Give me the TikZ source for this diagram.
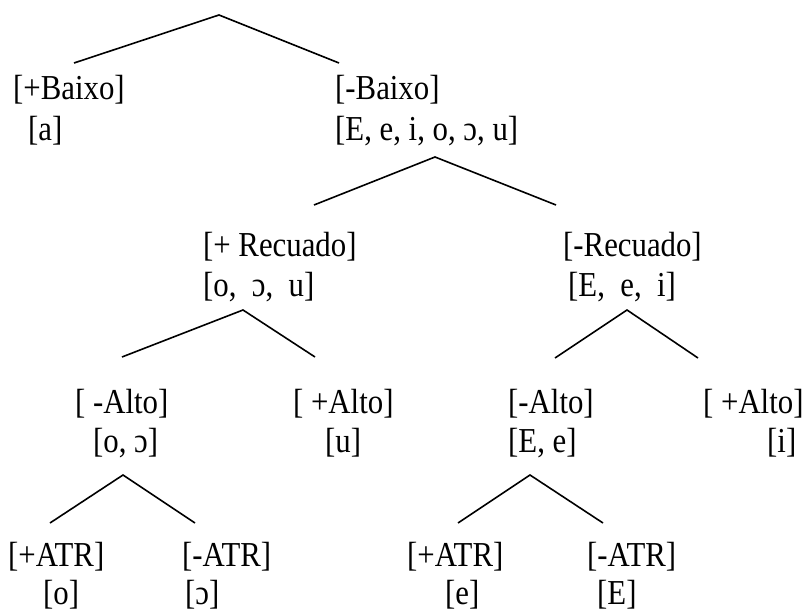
\documentclass[tikz,border=0pt]{standalone}
\usepackage{fontspec}
\setmainfont{Liberation Serif}[FakeStretch=0.88]
\begin{document}
\begin{tikzpicture}[x=1pt,y=-1pt,
  lbl/.style={anchor=base west, inner sep=0pt, font=\fontsize{35}{40}\selectfont},
  branch/.style={line width=1.6pt, line join=miter}]
\useasboundingbox (0,0) rectangle (806,612);

% branch points
\coordinate (r)   at (219,15);  \coordinate (rL)  at (74,63);   \coordinate (rR)  at (339,63);
\coordinate (b)   at (435,157); \coordinate (bL)  at (314,205); \coordinate (bR)  at (556,205);
\coordinate (p)   at (243,310); \coordinate (pL)  at (122,357); \coordinate (pR)  at (315,357);
\coordinate (m)   at (627,310); \coordinate (mL)  at (555,358); \coordinate (mR)  at (698,358);
\coordinate (pa)  at (123,475); \coordinate (paL) at (50,523);  \coordinate (paR) at (195,523);
\coordinate (ma)  at (530,475); \coordinate (maL) at (458,523); \coordinate (maR) at (603,523);

\draw[branch] (rL) -- (r) -- (rR);
\draw[branch] (bL) -- (b) -- (bR);
\draw[branch] (pL) -- (p) -- (pR);
\draw[branch] (mL) -- (m) -- (mR);
\draw[branch] (paL) -- (pa) -- (paR);
\draw[branch] (maL) -- (ma) -- (maR);

% feature labels and vowel sets
\node[lbl] (baixoP)  at (13,100)  {[+Baixo]};
\node[lbl] (baixoPv) at (28,141)  {[a]};
\node[lbl] (baixoM)  at (335,100) {[-Baixo]};
\node[lbl] (baixoMv) at (335,141) {[E, e, i, o, ɔ, u]};

\node[lbl] (recP)  at (203,257) {[+ Recuado]};
\node[lbl] (recPv) at (203,297) {[o,\ \ ɔ,\ \ u]};
\node[lbl] (recM)  at (563,257) {[-Recuado]};
\node[lbl] (recMv) at (568,297) {[E,\ \ e,\ \ i]};

\node[lbl] (altoM1)  at (75,413)  {[ -Alto]};
\node[lbl] (altoM1v) at (93,452)  {[o, ɔ]};
\node[lbl] (altoP1)  at (293,413) {[ +Alto]};
\node[lbl] (altoP1v) at (325,452) {[u]};
\node[lbl] (altoM2)  at (508,413) {[-Alto]};
\node[lbl] (altoM2v) at (508,452) {[E, e]};
\node[lbl] (altoP2)  at (703,413) {[ +Alto]};
\node[lbl] (altoP2v) at (767,452) {[i]};

\node[lbl] (atrP1)  at (8,566)   {[+ATR]};
\node[lbl] (atrP1v) at (43,604)  {[o]};
\node[lbl] (atrM1)  at (182,566) {[-ATR]};
\node[lbl] (atrM1v) at (185,604) {[ɔ]};
\node[lbl] (atrP2)  at (407,566) {[+ATR]};
\node[lbl] (atrP2v) at (445,604) {[e]};
\node[lbl] (atrM2)  at (587,566) {[-ATR]};
\node[lbl] (atrM2v) at (597,604) {[E]};
\end{tikzpicture}
\end{document}
